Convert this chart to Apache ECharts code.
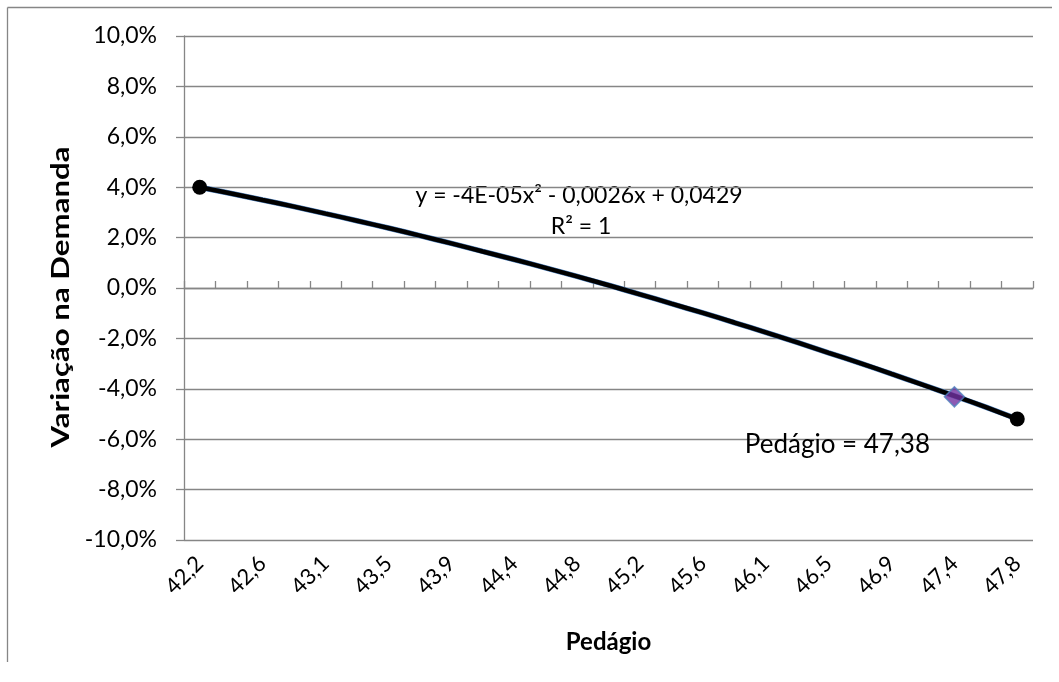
<!DOCTYPE html>
<html>
<head>
<meta charset="utf-8">
<script src="https://cdn.jsdelivr.net/npm/echarts@6/dist/echarts.min.js"></script>
<style>
  html, body { margin: 0; padding: 0; background: #fff; }
  #chart { width: 1059px; height: 682px; }
</style>
</head>
<body>
<div id="chart"></div>
<script>
// Toll values (Pedágio), one category per step
const categories = ["42,2","42,4","42,6","42,8","43,1","43,3","43,5","43,7","43,9","44,1",
  "44,4","44,6","44,8","45,0","45,2","45,4","45,6","45,9","46,1","46,3",
  "46,5","46,7","46,9","47,2","47,4","47,6","47,8"];

// Demand variation (%) for each toll value
const demandPct = [4.00, 3.75, 3.49, 3.23, 2.95, 2.67, 2.38, 2.08, 1.77, 1.45,
  1.13, 0.80, 0.46, 0.11, -0.25, -0.62, -0.99, -1.37, -1.76, -2.16,
  -2.57, -2.98, -3.41, -3.84, -4.28, -4.73, -5.20];

// Highlighted toll point
const chosenCategory = "47,4";
const chosenToll = "47,38";
const chosenPct = -4.32;

// Fitted trend text
const trendEquation = "y = -4E-05x² - 0,0026x + 0,0429";
const trendR2 = "R² = 1";

const yTicks = { min: -10, max: 10, step: 2 };

const FONT = "Lato";
const lastIdx = demandPct.length - 1;

const fmtPct = v => v.toFixed(1).replace('.', ',') + '%';

const chart = echarts.init(document.getElementById('chart'), null, { renderer: 'canvas' });

chart.setOption({
  animation: false,
  backgroundColor: '#ffffff',
  textStyle: { fontFamily: FONT, color: '#000' },
  grid: { left: 184, right: 26, top: 36, bottom: 142, containLabel: false },
  xAxis: [
    {
      // bottom labels
      type: 'category',
      data: categories,
      position: 'bottom',
      axisLine: { show: false, onZero: false },
      axisTick: { show: false },
      axisLabel: {
        interval: 1, rotate: 45, margin: 20,
        fontFamily: FONT, fontSize: 22, color: '#000'
      },
      name: 'Pedágio',
      nameLocation: 'middle',
      nameGap: 90,
      nameTextStyle: { fontFamily: FONT, fontSize: 24, fontWeight: 'bold', color: '#000' }
    },
    {
      // axis line drawn across zero with tick marks
      type: 'category',
      data: categories,
      axisLine: { show: true, onZero: true, lineStyle: { color: '#868686', width: 1.3 } },
      axisTick: { show: true, interval: 0, length: 7, inside: false, lineStyle: { color: '#868686', width: 1.3 } },
      axisLabel: { show: false },
      splitLine: { show: false }
    }
  ],
  yAxis: {
    type: 'value',
    min: yTicks.min, max: yTicks.max, interval: yTicks.step,
    axisLine: { show: true, onZero: false, lineStyle: { color: '#868686', width: 1.3 } },
    axisTick: { show: true, length: 8, lineStyle: { color: '#868686', width: 1.3 } },
    splitLine: { show: true, lineStyle: { color: '#868686', width: 1.3 } },
    axisLabel: {
      formatter: fmtPct, margin: 27,
      fontFamily: FONT, fontSize: 23, color: '#000'
    }
  },
  series: [
    {
      // thin blue data line beneath the trend
      type: 'line',
      data: demandPct,
      smooth: 0.3,
      showSymbol: false,
      lineStyle: { color: '#4f81bd', width: 5.5 },
      z: 2,
      silent: true
    },
    {
      // black trend curve with end markers
      type: 'line',
      data: demandPct.map((v, i) => ({
        value: v,
        symbolSize: (i === 0 || i === lastIdx) ? 15 : 0
      })),
      smooth: 0.3,
      symbol: 'circle',
      showAllSymbol: true,
      itemStyle: { color: '#000' },
      lineStyle: { color: '#000', width: 4.5 },
      z: 3
    },
    {
      type: 'scatter',
      data: [[chosenCategory, chosenPct]],
      symbol: 'diamond',
      symbolSize: 20,
      itemStyle: { color: '#7030a0', borderColor: '#4f81bd', borderWidth: 1.5 },
      z: 4,
      label: {
        show: true,
        position: 'bottom',
        distance: 4,
        offset: [-117, 20],
        formatter: 'Pedágio = ' + chosenToll,
        fontFamily: FONT, fontSize: 26, color: '#000', opacity: 1
      }
    }
  ],
  graphic: [
    { type: 'line', shape: { x1: 7.5, y1: 7.5, x2: 7.5, y2: 662 }, style: { stroke: '#868686', lineWidth: 1.3 } },
    { type: 'line', shape: { x1: 7.5, y1: 7.5, x2: 1052, y2: 7.5 }, style: { stroke: '#868686', lineWidth: 1.3 } },
    {
      // vertical axis title, stretched along its length
      type: 'text',
      x: 61, y: 297,
      rotation: Math.PI / 2,
      scaleX: 1.3,
      style: {
        text: 'Variação na Demanda',
        fontFamily: FONT, fontSize: 24, fontWeight: 'bold', fill: '#000',
        align: 'center', verticalAlign: 'middle'
      }
    },
    {
      type: 'text', x: 579, y: 196,
      style: { text: trendEquation, fontFamily: FONT, fontSize: 23, fill: '#000', align: 'center', verticalAlign: 'middle' }
    },
    {
      type: 'text', x: 581, y: 227,
      style: { text: trendR2, fontFamily: FONT, fontSize: 23, fill: '#000', align: 'center', verticalAlign: 'middle' }
    }
  ]
});
</script>
</body>
</html>
